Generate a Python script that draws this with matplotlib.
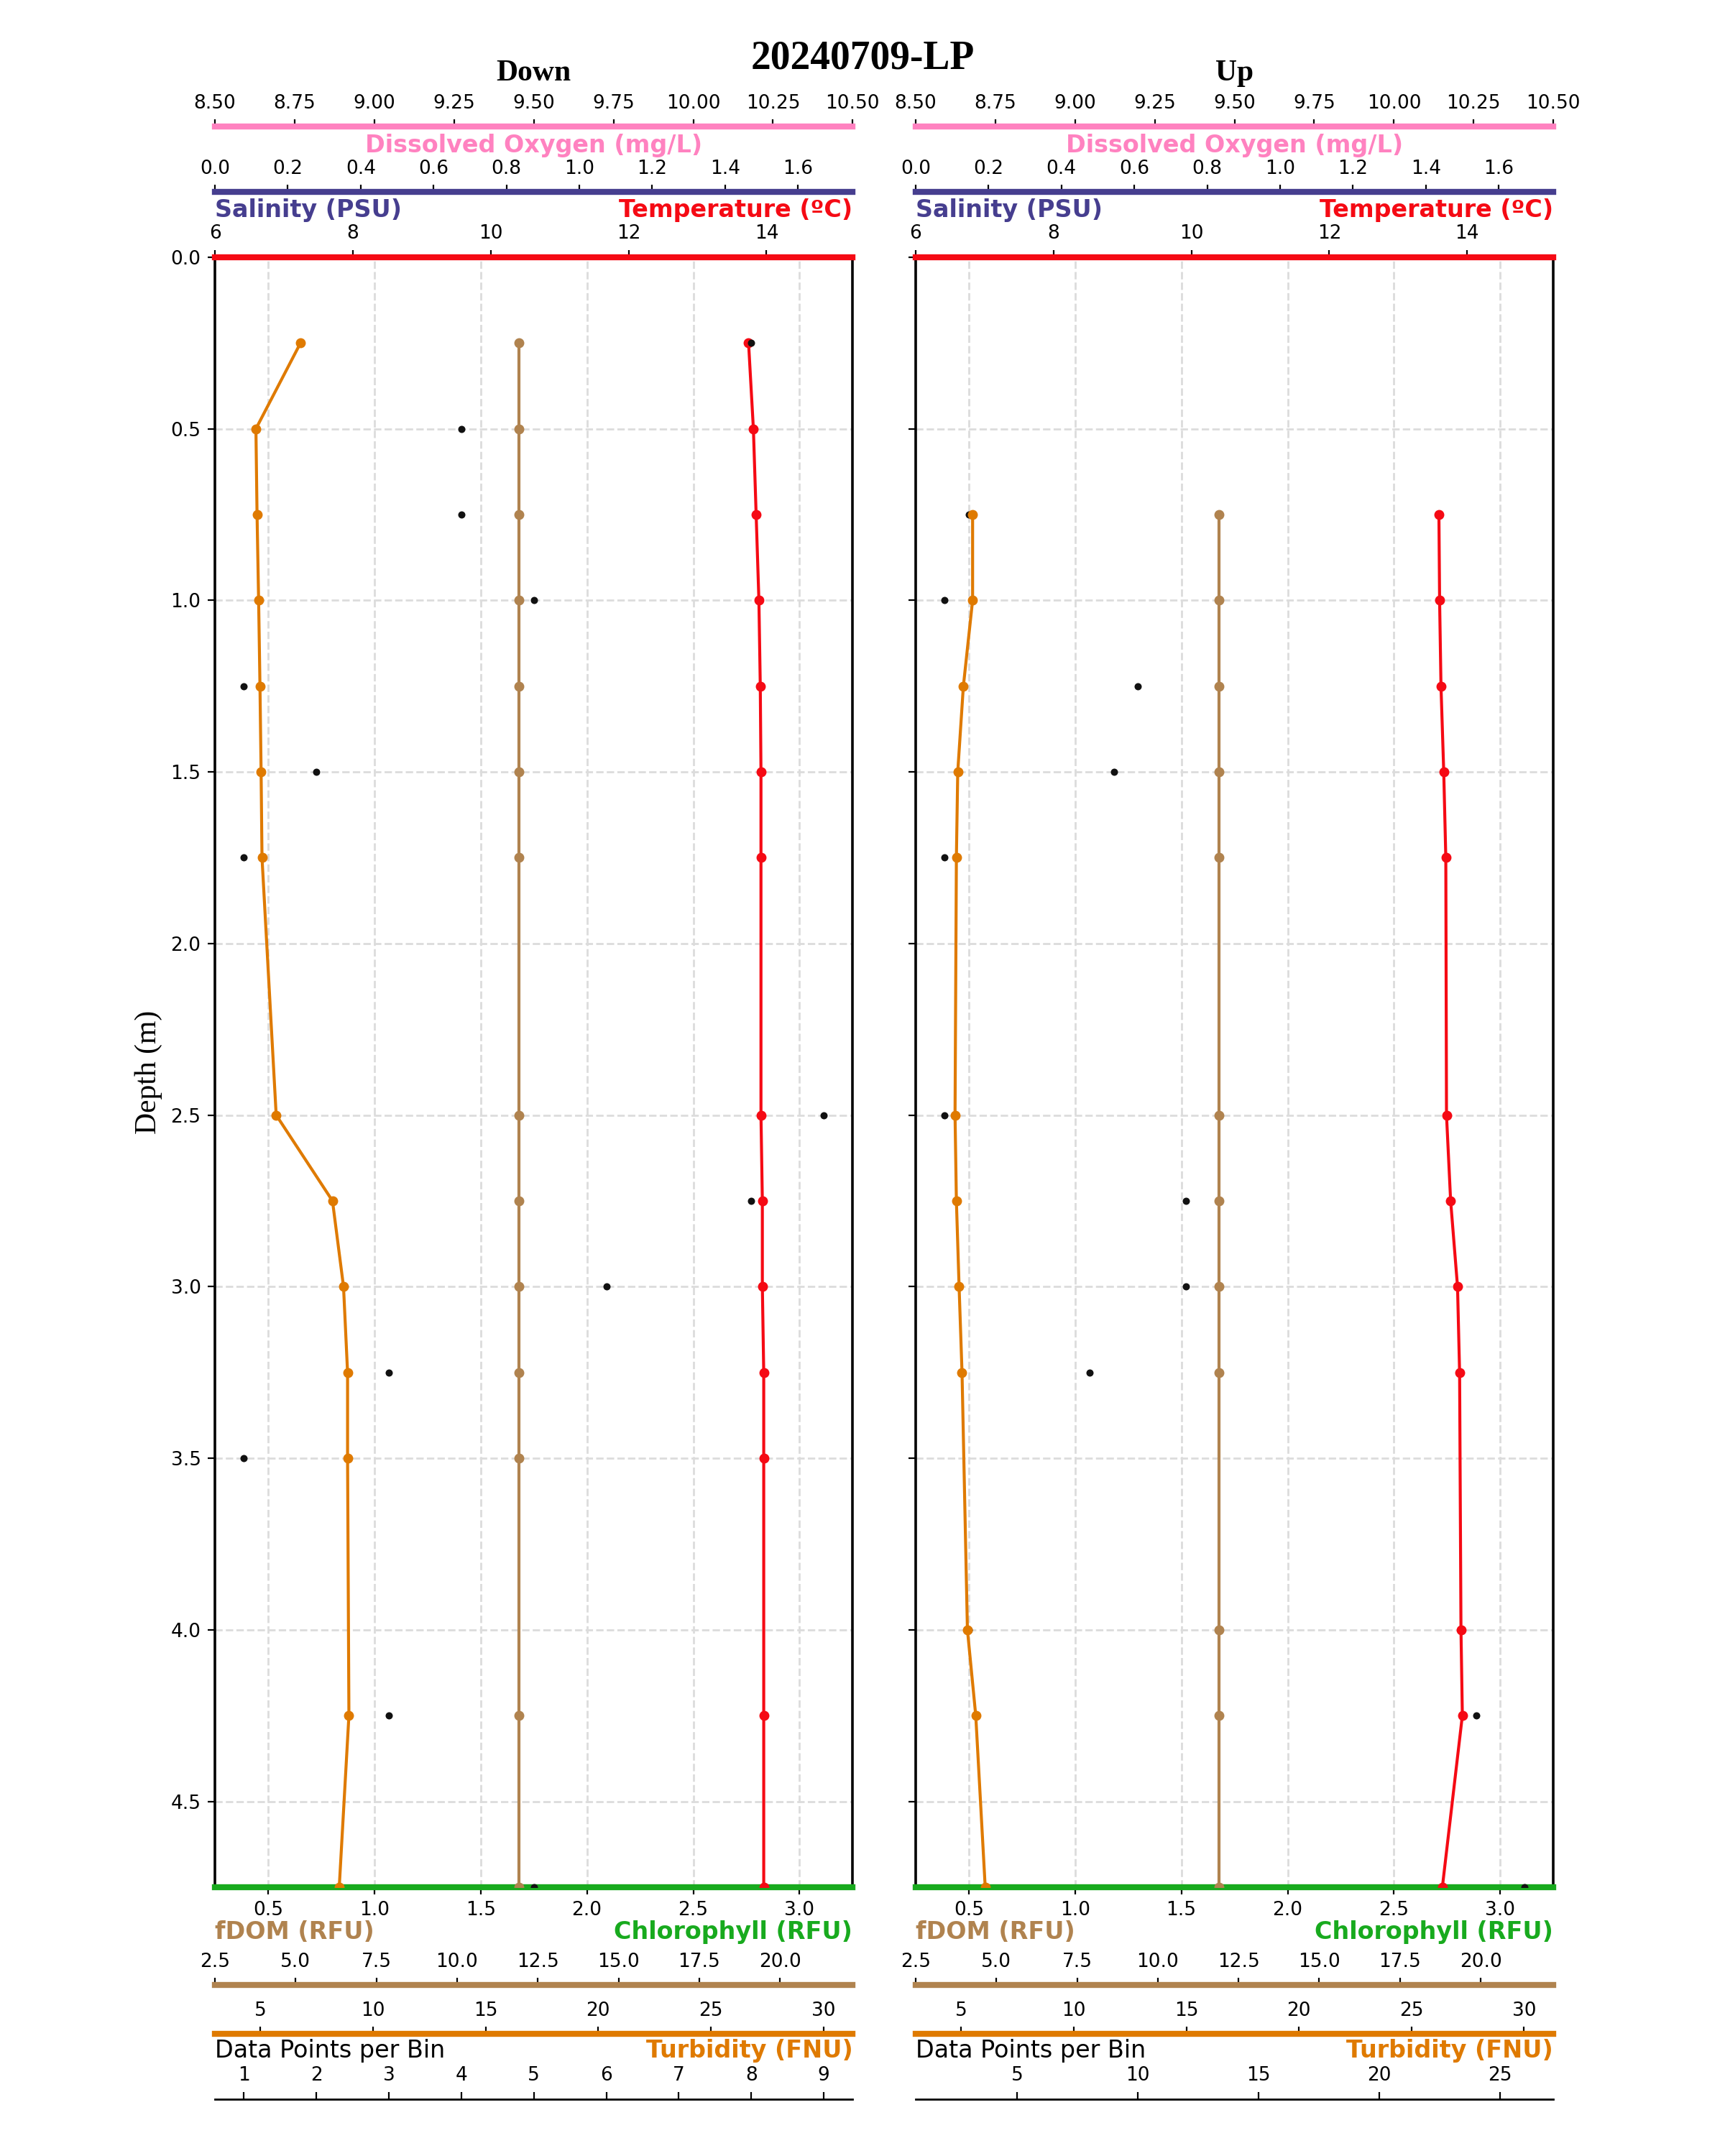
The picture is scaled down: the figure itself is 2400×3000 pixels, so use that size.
import matplotlib
matplotlib.use("Agg")
import matplotlib.pyplot as plt
from matplotlib.ticker import MultipleLocator, FormatStrFormatter

# ---------------- data ----------------
title_text = "20240709-LP"
panel_titles = ["Down", "Up"]

down_depth = [0.25, 0.5, 0.75, 1.0, 1.25, 1.5, 1.75, 2.5, 2.75, 3.0, 3.25, 3.5, 4.25, 4.75]
down_temp = [13.74, 13.81, 13.85, 13.89, 13.91, 13.92, 13.92, 13.92, 13.94, 13.94, 13.96, 13.96, 13.96, 13.96]
down_turb = [6.78, 4.80, 4.85, 4.92, 4.98, 5.03, 5.07, 5.70, 8.20, 8.69, 8.87, 8.87, 8.93, 8.50]
down_fdom = [11.92] * 14
down_bins = [8, 4, 4, 5, 1, 2, 1, 9, 8, 6, 3, 1, 3, 5]

up_depth = [0.75, 1.0, 1.25, 1.5, 1.75, 2.5, 2.75, 3.0, 3.25, 4.0, 4.25, 4.75]
up_temp = [13.59, 13.60, 13.62, 13.66, 13.69, 13.70, 13.76, 13.86, 13.89, 13.91, 13.93, 13.64]
up_turb = [5.51, 5.51, 5.10, 4.85, 4.79, 4.73, 4.79, 4.91, 5.04, 5.28, 5.65, 6.07]
up_fdom = [11.90] * 12
up_bins = [3, 2, 10, 9, 2, 2, 12, 12, 8, 3, 24, 26]

# axis ranges
depth_lim = (4.75, 0.0)
chl_lim = (0.25, 3.25)
temp_lim = (6.0, 15.25)
sal_lim = (0.0, 1.75)
do_lim = (8.5, 10.5)
fdom_lim = (2.5, 22.25)
turb_lim = (2.98, 31.3)

# ---------------- style ----------------
C_DO = "#ff82c0"
C_SAL = "#463e8f"
C_TEMP = "#f50a14"
C_CHL = "#18aa1e"
C_FDOM = "#b0834f"
C_TURB = "#df7a00"
C_BIN = "#111111"

plt.rcParams["font.family"] = ["DejaVu Sans"]
plt.rcParams["xtick.labelsize"] = 9.5
plt.rcParams["ytick.labelsize"] = 9.5
SERIF = ["Liberation Serif", "DejaVu Serif"]
LBL = 12

fig = plt.figure(figsize=(12, 15), dpi=200)
fig.text(0.5, 0.973, title_text, ha="center", va="center", fontsize=20,
         fontweight="bold", family=SERIF)


def add_twin(ax, pos, color, lim, locator, fmt=None, lw=3.0):
    t = ax.twiny()
    for sp in t.spines.values():
        sp.set_visible(False)
    t.spines["top"].set_visible(True)
    t.spines["top"].set_position(("axes", pos))
    t.spines["top"].set_color(color)
    t.spines["top"].set_linewidth(lw)
    t.set_xlim(*lim)
    t.xaxis.set_major_locator(MultipleLocator(locator))
    if fmt:
        t.xaxis.set_major_formatter(FormatStrFormatter(fmt))
    t.tick_params(axis="x", colors="black", length=3.5, width=0.8)
    return t


def make_panel(rect, title, depth, temp, turb, fdom, bins, show_ylabels):
    ax = fig.add_axes(rect)
    ax.set_xlim(*chl_lim)
    ax.xaxis.set_major_locator(MultipleLocator(0.5))
    ax.xaxis.set_major_formatter(FormatStrFormatter("%.1f"))
    ax.yaxis.set_major_locator(MultipleLocator(0.5))
    ax.yaxis.set_major_formatter(FormatStrFormatter("%.1f"))
    ax.grid(True, linestyle="--", color="#dcdcdc", linewidth=1.0)
    ax.set_axisbelow(True)
    ax.spines["top"].set_visible(False)
    ax.spines["left"].set_linewidth(1.3)
    ax.spines["right"].set_linewidth(1.3)
    ax.spines["bottom"].set_color(C_CHL)
    ax.spines["bottom"].set_linewidth(3.0)
    ax.tick_params(axis="both", colors="black", length=3.5, width=0.8)
    if not show_ylabels:
        ax.tick_params(axis="y", labelleft=False)
    else:
        ax.set_ylabel("Depth (m)", fontsize=15, family=SERIF)

    ax_t = add_twin(ax, 1.0, C_TEMP, temp_lim, 2)
    ax_s = add_twin(ax, 1.04, C_SAL, sal_lim, 0.2, "%.1f")
    ax_d = add_twin(ax, 1.08, C_DO, do_lim, 0.25, "%.2f")
    ax_f = add_twin(ax, -0.06, C_FDOM, fdom_lim, 2.5, "%.1f")
    ax_b = add_twin(ax, -0.13, "black", (0, 1), 1, lw=1.0)
    ax_u = add_twin(ax, -0.09, C_TURB, turb_lim, 5)

    ax_t.plot(temp, depth, "-o", color=C_TEMP, lw=1.5, ms=4)
    ax_f.plot(fdom, depth, "-o", color=C_FDOM, lw=1.5, ms=4)
    ax_b.plot(bins, depth, "o", color=C_BIN, ms=2.6, linestyle="none")
    ax_b.set_xlim(auto=True)
    ax_b.relim()
    ax_b.autoscale(axis="x")
    ax_b.xaxis.set_major_locator(MultipleLocator(1 if max(bins) <= 10 else 5))
    ax_u.plot(turb, depth, "-o", color=C_TURB, lw=1.5, ms=4)

    ax.set_ylim(*depth_lim)

    tr = ax.transAxes
    ax.text(0.5, 1.113, title, transform=tr, ha="center", va="center",
            fontsize=15, fontweight="bold", family=SERIF)
    ax.text(0.5, 1.0684, "Dissolved Oxygen (mg/L)", transform=tr, ha="center",
            va="center", fontsize=LBL, fontweight="bold", color=C_DO)
    ax.text(0.0, 1.0287, "Salinity (PSU)", transform=tr, ha="left",
            va="center", fontsize=LBL, fontweight="bold", color=C_SAL)
    ax.text(1.0, 1.0287, "Temperature (ºC)", transform=tr, ha="right",
            va="center", fontsize=LBL, fontweight="bold", color=C_TEMP)
    ax.text(0.0, -0.0278, "fDOM (RFU)", transform=tr, ha="left",
            va="center", fontsize=LBL, fontweight="bold", color=C_FDOM)
    ax.text(1.0, -0.0278, "Chlorophyll (RFU)", transform=tr, ha="right",
            va="center", fontsize=LBL, fontweight="bold", color=C_CHL)
    ax.text(0.0, -0.1004, "Data Points per Bin", transform=tr, ha="left",
            va="center", fontsize=LBL, color="black")
    ax.text(1.0, -0.1004, "Turbidity (FNU)", transform=tr, ha="right",
            va="center", fontsize=LBL, fontweight="bold", color=C_TURB)
    return ax


make_panel([0.1246, 0.1247, 0.3697, 0.7560], panel_titles[0],
           down_depth, down_temp, down_turb, down_fdom, down_bins, True)
make_panel([0.5308, 0.1247, 0.3697, 0.7560], panel_titles[1],
           up_depth, up_temp, up_turb, up_fdom, up_bins, False)

fig.savefig("out.png", dpi=200)
